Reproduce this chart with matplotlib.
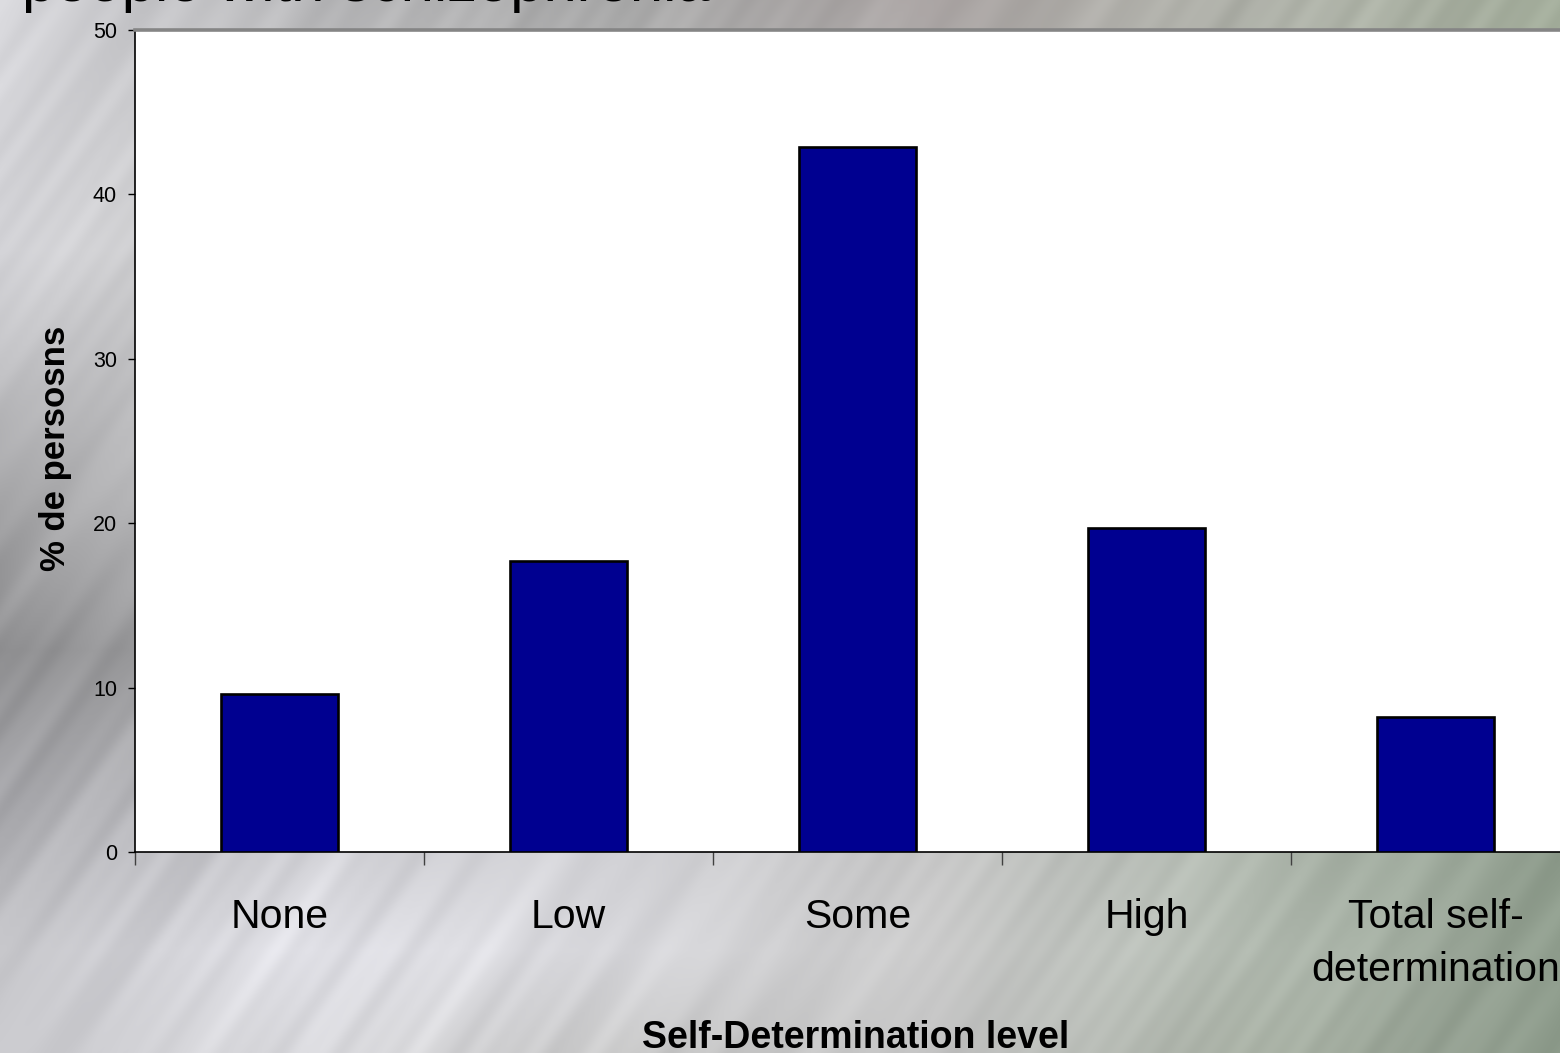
import numpy as np
import matplotlib
matplotlib.use("Agg")
import matplotlib.pyplot as plt

plt.rcParams['font.family'] = ['Liberation Sans', 'DejaVu Sans']

# survey results
levels = ["None", "Low", "Some", "High", "Total self-\ndetermination"]
pct_persons = [9.6, 17.7, 42.9, 19.7, 8.2]
y_ticks = [0, 10, 20, 30, 40, 50]

W, H = 1560, 1053


def hexrgb(h):
    h = h.lstrip('#')
    return [int(h[i:i + 2], 16) / 255.0 for i in (0, 2, 4)]


def brushed_metal(w, h):
    # coarse colour grid, bilinear upsampled
    gx = np.array([0, 312, 624, 936, 1248, 1560], float)
    gy = np.array([0, 250, 500, 650, 800, 950, 1053], float)
    rows = [
        ["#d6d6da", "#b8b8ba", "#a9a9a9", "#aaa4a3", "#b2b4ac", "#a2ac9a"],
        ["#d4d4d8", "#c8c8c8", "#c0c0c0", "#b8b8b8", "#b0b6ac", "#a0aa98"],
        ["#a8a8aa", "#c0c0c2", "#c4c4c4", "#bcbcbc", "#aeb4aa", "#9aa494"],
        ["#8c8c8e", "#b0b0b2", "#c8c8ca", "#c0c0c0", "#acb2a8", "#96a090"],
        ["#a8a8ac", "#c8c8cc", "#d0d0d4", "#c4c4c4", "#b0b8ae", "#92a090"],
        ["#c4c4c8", "#e2e2e8", "#d8d8dc", "#cacaca", "#b4bcb2", "#8e9c8c"],
        ["#cacace", "#dcdce0", "#c8c8c8", "#c4c4c4", "#aab2a6", "#8a9888"],
    ]
    grid = np.array([[hexrgb(c) for c in r] for r in rows])
    xs = np.arange(w)
    ys = np.arange(h)
    tmp = np.empty((len(gy), w, 3))
    for i in range(len(gy)):
        for c in range(3):
            tmp[i, :, c] = np.interp(xs, gx, grid[i, :, c])
    img = np.empty((h, w, 3))
    for c in range(3):
        for j in range(w):
            img[:, j, c] = np.interp(ys, gy, tmp[:, j, c])

    # faint diagonal streaks
    X, Y = np.meshgrid(xs, ys)
    a = np.deg2rad(55)
    u = X * np.sin(a) + Y * np.cos(a)
    v = X * np.cos(a) - Y * np.sin(a)
    streak = (0.016 * np.sin(u / 7.3 + 0.4) * np.sin(v / 210.0 + 1.1)
              + 0.014 * np.sin(u / 13.1 + 2.2) * np.sin(v / 330.0 + 0.3)
              + 0.010 * np.sin(u / 3.9 + 1.7) * np.sin(v / 150.0 + 2.5)
              + 0.012 * np.sin(u / 29.0 + 0.9))
    img = img + streak[..., None]
    return np.clip(img, 0, 1)


fig = plt.figure(figsize=(W / 100, H / 100), dpi=100)

bg = fig.add_axes([0, 0, 1, 1], zorder=0)
bg.imshow(brushed_metal(W, H), aspect='auto', interpolation='bilinear')
bg.axis('off')

fig.text(22 / W, 1 - 1 / H, "people with schizophrenia", fontsize=43,
         ha='left', va='baseline', color='black')

ax = fig.add_axes([135 / W, 1 - 852 / H, 1445 / W, 822 / H], zorder=1)
ax.set_facecolor('white')

x = np.arange(len(levels))
ax.bar(x, pct_persons, width=0.405, color='#000090', edgecolor='black',
       linewidth=1.9, zorder=3)

ax.set_xlim(-0.5, len(levels) - 0.5)
ax.set_ylim(0, 50)
ax.set_yticks(y_ticks)
ax.set_yticklabels([str(t) for t in y_ticks])
ax.tick_params(axis='y', direction='out', length=5, width=1, pad=8,
               colors='black', labelsize=15.5)

ax.set_xticks(np.arange(len(levels) + 1) - 0.5)
ax.set_xticklabels([])
ax.tick_params(axis='x', which='major', direction='out', length=9.5,
               width=1, color='#404040')
ax.set_xticks(x, minor=True)
ax.set_xticklabels(levels, minor=True)
ax.tick_params(axis='x', which='minor', length=0, pad=33, labelsize=29.5)
for lab in ax.get_xticklabels(minor=True):
    lab.set_linespacing(1.5)

for side in ['left', 'bottom']:
    ax.spines[side].set_color('black')
    ax.spines[side].set_linewidth(1.2)
ax.spines['top'].set_color('#858585')
ax.spines['top'].set_linewidth(2.6)
ax.spines['right'].set_visible(False)

fig.text(56 / W, 1 - 448 / H, "% de persosns", rotation=90, fontsize=25,
         fontweight='bold', ha='center', va='center')
fig.text(856 / W, 1 - 1048 / H, "Self-Determination level", fontsize=27,
         fontweight='bold', ha='center', va='baseline')

fig.savefig("out.png", dpi=100)
